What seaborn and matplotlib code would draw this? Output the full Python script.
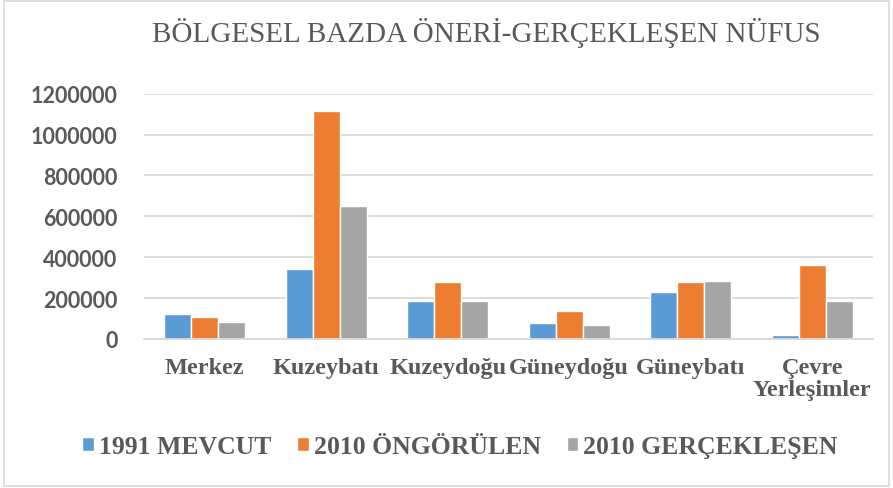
import matplotlib
matplotlib.use("Agg")
import matplotlib.pyplot as plt
import seaborn as sns
import pandas as pd
from matplotlib.patches import Rectangle

categories = ["Merkez", "Kuzeybatı", "Kuzeydoğu", "Güneydoğu", "Güneybatı", "Çevre\nYerleşimler"]
series_names = ["1991 MEVCUT", "2010 ÖNGÖRÜLEN", "2010 GERÇEKLEŞEN"]
mevcut_1991 = [122000, 342000, 187000, 77000, 228000, 20000]
ongorulen_2010 = [108000, 1115000, 280000, 139000, 280000, 364000]
gerceklesen_2010 = [82000, 649000, 187000, 67000, 285000, 184000]
yticks = [0, 200000, 400000, 600000, 800000, 1000000, 1200000]
colors = ["#5B9BD5", "#ED7D31", "#A5A5A5"]
title = "BÖLGESEL BAZDA ÖNERİ-GERÇEKLEŞEN NÜFUS"

rows = []
for name, vals in zip(series_names, [mevcut_1991, ongorulen_2010, gerceklesen_2010]):
    for c, v in zip(categories, vals):
        rows.append({"Bölge": c, "Seri": name, "Nüfus": v})
df = pd.DataFrame(rows)

sns.set_theme(style="white")
plt.rcParams["font.family"] = ["Liberation Serif", "DejaVu Serif"]

fig = plt.figure(figsize=(8.93, 4.89), dpi=100)
ax = fig.add_axes([144 / 893, 1 - 340 / 489, (873 - 144) / 893, (340 - 94.7) / 489])

sns.barplot(data=df, x="Bölge", y="Nüfus", hue="Seri", order=categories,
            hue_order=series_names, palette=colors, width=0.667, gap=0,
            saturation=1, errorbar=None, ax=ax, legend=True)

ax.set_ylim(0, 1200000)
ax.set_xlim(-0.5, len(categories) - 0.5)
ax.set_yticks(yticks)
ax.set_yticklabels([str(t) for t in yticks])
ax.yaxis.grid(True, color="#d9d9d9", linewidth=1.3)
ax.set_axisbelow(True)
for s in ["top", "right", "left"]:
    ax.spines[s].set_visible(False)
ax.spines["bottom"].set_color("#d9d9d9")
ax.spines["bottom"].set_linewidth(1.3)
ax.set_xlabel("")
ax.set_ylabel("")
ax.tick_params(axis="y", length=0, pad=19, labelsize=15.5, labelcolor="#595959")
ax.tick_params(axis="x", length=0, pad=13, labelsize=17.5, labelcolor="#595959")
for lab in ax.get_yticklabels():
    lab.set_fontfamily(["Lato", "DejaVu Sans"])
    lab.set_fontweight("bold")
for lab in ax.get_xticklabels():
    lab.set_fontweight("bold")
    lab.set_linespacing(1.05)
    lab.set_verticalalignment("top")

leg = ax.legend(loc="center", bbox_to_anchor=(460 / 893, 1 - 448 / 489),
                bbox_transform=fig.transFigure, ncol=3, frameon=False,
                handlelength=0.45, handleheight=0.45, handletextpad=0.2,
                columnspacing=1.0, prop={"weight": "bold", "size": 18.5})
for t in leg.get_texts():
    t.set_color("#595959")

fig.text(486 / 893, 1 - 33 / 489, title, ha="center", va="center",
         fontsize=21, color="#595959")

fig.patches.append(Rectangle((0.004, 0.004), 0.992, 0.992, transform=fig.transFigure,
                             fill=False, edgecolor="#d9d9d9", linewidth=1.2))

fig.savefig("out.png", dpi=100)
